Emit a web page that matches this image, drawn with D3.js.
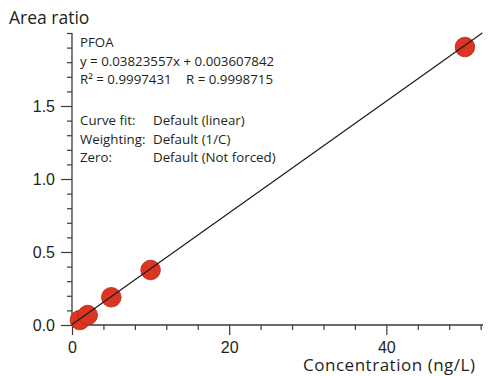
<!DOCTYPE html>
<html>
<head>
<meta charset="utf-8">
<script src="https://cdn.jsdelivr.net/npm/d3@7"></script>
<style>
  html, body { margin: 0; padding: 0; background: #fff; }
  svg { display: block; font-family: "Open Sans", "Noto Sans", sans-serif; }
</style>
</head>
<body>
<svg id="chart" width="489" height="376"></svg>
<script>
// Calibration standards for PFOA
const concentrations = [1, 2, 5, 10, 50];
const areaRatios = [0.034, 0.068, 0.19, 0.377, 1.904];

// Linear fit reported by the processing software
const fitSlope = 0.03823557;
const fitIntercept = 0.003607842;

const xMajorTicks = [0, 20, 40];
const xMinorTicks = [4, 8, 12, 16, 24, 28, 32, 36, 44, 48, 52];
const yMajorTicks = [0, 0.5, 1.0, 1.5];
const yMinorTicks = d3.range(1, 21).map(i => i / 10).filter(v => ![0.5, 1.0, 1.5].some(m => Math.abs(m - v) < 1e-9));

const infoLines = [
  "PFOA",
  "y = 0.03823557x + 0.003607842"
];
const fitStats = ["R² = 0.9997431", "R = 0.9998715"];
const settingLabels = ["Curve fit:", "Weighting:", "Zero:"];
const settingValues = ["Default (linear)", "Default (1/C)", "Default (Not forced)"];

const svg = d3.select("#chart");
const x = d3.scaleLinear().domain([0, 52.3]).range([72, 483]);
const y = d3.scaleLinear().domain([0, 2.0]).range([325, 33]);

const axisColor = "#3a3a3a";
const textColor = "#231f20";

// Y axis: major ticks labelled, minor ticks every 0.1
const yAxisMajor = d3.axisLeft(y).tickValues(yMajorTicks).tickSize(11).tickPadding(6)
  .tickFormat(d3.format(".1f"));
const gy = svg.append("g").attr("transform", `translate(${x(0)},0)`).call(yAxisMajor);
gy.select(".domain").remove();
gy.selectAll("line").attr("stroke", axisColor).attr("stroke-width", 1.2);
gy.selectAll("text").attr("fill", textColor).style("font-size", "16px");

const yAxisMinor = d3.axisLeft(y).tickValues(yMinorTicks).tickSize(5).tickFormat("");
const gyMinor = svg.append("g").attr("transform", `translate(${x(0)},0)`).call(yAxisMinor);
gyMinor.select(".domain").remove();
gyMinor.selectAll("line").attr("stroke", axisColor).attr("stroke-width", 1.2);

// X axis: major ticks labelled, minor ticks every 4 ng/L
const xAxisMajor = d3.axisBottom(x).tickValues(xMajorTicks).tickSize(10).tickPadding(7)
  .tickFormat(d3.format("d"));
const gx = svg.append("g").attr("transform", `translate(0,${y(0)})`).call(xAxisMajor);
gx.select(".domain").remove();
gx.selectAll("line").attr("stroke", axisColor).attr("stroke-width", 1.2);
gx.selectAll("text").attr("fill", textColor).style("font-size", "16px");

const xAxisMinor = d3.axisBottom(x).tickValues(xMinorTicks).tickSize(5).tickFormat("");
const gxMinor = svg.append("g").attr("transform", `translate(0,${y(0)})`).call(xAxisMinor);
gxMinor.select(".domain").remove();
gxMinor.selectAll("line").attr("stroke", axisColor).attr("stroke-width", 1.2);

// Axis lines
svg.append("line")
  .attr("x1", x(0)).attr("x2", x(0))
  .attr("y1", y(2.0)).attr("y2", y(0))
  .attr("stroke", axisColor).attr("stroke-width", 1.3);
svg.append("line")
  .attr("x1", x(0)).attr("x2", x(52.3))
  .attr("y1", y(0)).attr("y2", y(0))
  .attr("stroke", axisColor).attr("stroke-width", 1.3);

// Axis titles
svg.append("text")
  .attr("x", 9).attr("y", 24)
  .attr("fill", textColor).style("font-size", "17.5px")
  .text("Area ratio");
svg.append("text")
  .attr("x", 303).attr("y", 371)
  .attr("fill", textColor).style("font-size", "17px")
  .attr("textLength", 172)
  .text("Concentration (ng/L)");

// Calibration points
svg.append("g").selectAll("circle")
  .data(concentrations.map((c, i) => ({ c, r: areaRatios[i] })))
  .join("circle")
  .attr("cx", d => x(d.c))
  .attr("cy", d => y(d.r))
  .attr("r", 9.8)
  .attr("fill", "#dc3522")
  .attr("stroke", "#a8291b")
  .attr("stroke-width", 0.8);

// Regression line, drawn over the points up to the top of the y range
const xEnd = (2.0 - fitIntercept) / fitSlope;
const fitLine = d3.line().x(d => x(d)).y(d => y(fitSlope * d + fitIntercept));
svg.append("path")
  .attr("d", fitLine([0, xEnd]))
  .attr("fill", "none")
  .attr("stroke", "#1a1a1a")
  .attr("stroke-width", 1.2);

// Fit summary block
const info = svg.append("g").attr("fill", textColor).style("font-size", "13.3px");
info.append("text").attr("x", 80).attr("y", 47).text(infoLines[0]);
info.append("text").attr("x", 80).attr("y", 65.5).text(infoLines[1]);
info.append("text").attr("x", 80).attr("y", 84).text(fitStats[0]);
info.append("text").attr("x", 186).attr("y", 84).text(fitStats[1]);
const settingY = [125, 143.5, 161.5];
settingLabels.forEach((lab, i) => {
  info.append("text").attr("x", 80).attr("y", settingY[i]).text(lab);
  info.append("text").attr("x", 153).attr("y", settingY[i]).text(settingValues[i]);
});
</script>
</body>
</html>
